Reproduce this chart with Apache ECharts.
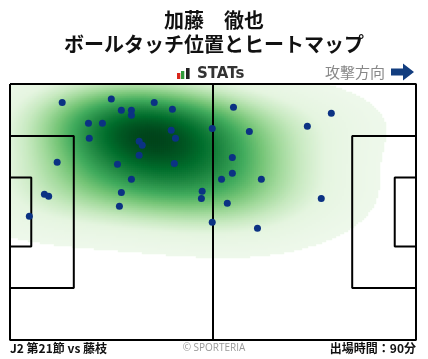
<!DOCTYPE html>
<html><head><meta charset="utf-8">
<script src="https://cdn.jsdelivr.net/npm/echarts@6/dist/echarts.min.js"></script>
<style>html,body{margin:0;padding:0;background:#fff}#c{width:428px;height:359px}</style>
</head><body><div id="c"></div>
<script>
// touch positions in metres (x: 0-105 toward attack, y: 0-68 from top)
const touchX = [13.5,26.2,28.8,31.4,31.4,37.3,42.0,20.3,23.9,41.7,42.8,20.5,33.4,34.2,33.4,12.2,27.8,42.5,31.4,8.9,10.0,28.8,49.7,49.5,28.3,5.0,52.3,54.7,52.3,57.8,83.1,76.9,61.9,57.5,57.5,65.0,56.2,80.5,64.0];
const touchY = [4.9,4.0,7.0,7.0,8.3,4.9,6.7,10.4,10.4,12.3,14.4,14.4,15.2,16.3,18.9,20.8,21.3,21.1,25.3,29.3,29.8,28.8,28.5,30.4,32.5,35.1,11.8,25.3,36.7,6.2,7.8,11.2,12.6,19.5,23.7,25.3,31.7,30.4,38.3];
const titleName = '加藤　徹也';
const titleSub = 'ボールタッチ位置とヒートマップ';
const footLeft = 'J2 第21節 vs 藤枝';
const footRight = '出場時間：90分';
const footCenter = '© SPORTERIA';

const L = 105, W = 68;
const GX = 10, GY = 84, GW = 406, GH = 256;
const NX = 203, NY = 128;
const THRESH = 0.045;

// Gaussian KDE (Scott bandwidth, widened), coloured by iso-proportion of mass inside the pitch
const n = touchX.length;
let mx = 0, my = 0;
for (let i = 0; i < n; i++) { mx += touchX[i]; my += touchY[i]; }
mx /= n; my /= n;
let sxx = 0, syy = 0, sxy = 0;
for (let i = 0; i < n; i++) {
  const dx = touchX[i] - mx, dy = touchY[i] - my;
  sxx += dx * dx; syy += dy * dy; sxy += dx * dy;
}
sxx /= (n - 1); syy /= (n - 1); sxy /= (n - 1);
const f2 = Math.pow(n, -1 / 3) * 2.2;
const hxx = sxx * f2 * 1.45, hyy = syy * f2, hxy = sxy * f2 * 1.2;
const det = hxx * hyy - hxy * hxy;
const ixx = hyy / det, iyy = hxx / det, ixy = -hxy / det;
function dens(x, y) {
  let s = 0;
  for (let k = 0; k < n; k++) {
    const dx = x - touchX[k], dy = y - touchY[k];
    s += Math.exp(-0.5 * (ixx * dx * dx + 2 * ixy * dx * dy + iyy * dy * dy));
  }
  return s;
}
const raw = [];
for (let i = 0; i < NX; i++) {
  const x = (i + 0.5) * L / NX;
  for (let j = 0; j < NY; j++) {
    const y = (j + 0.5) * W / NY;
    raw.push([i, j, dens(x, y)]);
  }
}
const sorted = raw.map(r => r[2]).sort((a, b) => a - b);
const cum = new Float64Array(sorted.length);
let tot = 0;
for (let i = 0; i < sorted.length; i++) { tot += sorted[i]; cum[i] = tot; }
function prop(v) {
  let lo = 0, hi = sorted.length - 1;
  while (lo < hi) { const m = (lo + hi + 1) >> 1; if (sorted[m] <= v) lo = m; else hi = m - 1; }
  return cum[lo] / tot;
}
const heat = raw.map(r => [r[0], r[1], prop(r[2])]).filter(r => r[2] >= THRESH);
const xCats = Array.from({length: NX}, (_, i) => i);
const yCats = Array.from({length: NY}, (_, j) => j);

const pitchLines = [
  [[0,0],[L,0],[L,W],[0,W],[0,0]],
  [[L/2,0],[L/2,W]],
  [[0,13.84],[16.5,13.84],[16.5,54.16],[0,54.16]],
  [[0,24.84],[5.5,24.84],[5.5,43.16],[0,43.16]],
  [[L,13.84],[L-16.5,13.84],[L-16.5,54.16],[L,54.16]],
  [[L,24.84],[L-5.5,24.84],[L-5.5,43.16],[L,43.16]]
];

const series = [{
  type: 'heatmap', xAxisIndex: 1, yAxisIndex: 1, data: heat, z: 1,
  progressive: 0, itemStyle: {borderWidth: 0}, emphasis: {disabled: true}
}];
pitchLines.forEach(p => series.push({
  type: 'line', xAxisIndex: 0, yAxisIndex: 0, data: p, symbol: 'none', z: 3,
  lineStyle: {color: '#000', width: 2}, silent: true
}));
series.push({
  type: 'scatter', xAxisIndex: 0, yAxisIndex: 0, z: 5,
  data: touchX.map((x, i) => [x, touchY[i]]),
  symbolSize: 7, itemStyle: {color: '#0b3283', opacity: 1}
});

const font = '"Noto Sans CJK JP", "Noto Sans", sans-serif';
const chart = echarts.init(document.getElementById('c'), null, {renderer: 'canvas'});
chart.setOption({
  animation: false,
  grid: [
    {left: GX, top: GY, width: GW, height: GH},
    {left: GX, top: GY, width: GW, height: GH}
  ],
  xAxis: [
    {type: 'value', min: 0, max: L, show: false, gridIndex: 0},
    {type: 'category', data: xCats, show: false, gridIndex: 1}
  ],
  yAxis: [
    {type: 'value', min: 0, max: W, inverse: true, show: false, gridIndex: 0},
    {type: 'category', data: yCats, inverse: true, show: false, gridIndex: 1}
  ],
  visualMap: {
    show: false, type: 'continuous', seriesIndex: 0, dimension: 2,
    min: THRESH, max: 1,
    inRange: {color: ['#eef8eb','#e5f5e0','#c7e9c0','#a1d99b','#74c476','#41ab5d','#238b45','#006d2c','#00441b']}
  },
  series: series,
  graphic: [
    {type: 'text', left: 'center', top: 10, style: {text: titleName, font: 'bold 20px ' + font, fill: '#111'}},
    {type: 'text', left: 'center', top: 34, style: {text: titleSub, font: 'bold 20px ' + font, fill: '#111'}},
    {type: 'rect', shape: {x: 177, y: 73, width: 3.3, height: 6}, style: {fill: '#d9261c'}},
    {type: 'rect', shape: {x: 181, y: 71, width: 3.3, height: 8}, style: {fill: '#2f9a3a'}},
    {type: 'rect', shape: {x: 186, y: 68, width: 3.6, height: 11}, style: {fill: '#222'}},
    {type: 'text', x: 197, y: 74, style: {text: 'STATs', font: 'bold 15px "DejaVu Sans", sans-serif', fill: '#333', verticalAlign: 'middle'}},
    {type: 'text', x: 325, y: 72, style: {text: '攻撃方向', font: '15px ' + font, fill: '#888', verticalAlign: 'middle'}},
    {type: 'polygon', shape: {points: [[391,68.5],[403,68.5],[403,63.5],[414,72],[403,80.5],[403,75.5],[391,75.5]]}, style: {fill: '#123d7f'}},
    {type: 'text', x: 10, y: 342, style: {text: footLeft, font: 'bold 12px ' + font, fill: '#111'}},
    {type: 'text', left: 'center', top: 343, style: {text: footCenter, font: '10px "Open Sans", sans-serif', fill: '#999'}},
    {type: 'text', right: 12, top: 342, style: {text: footRight, font: 'bold 12px ' + font, fill: '#111'}}
  ]
});
</script></body></html>
